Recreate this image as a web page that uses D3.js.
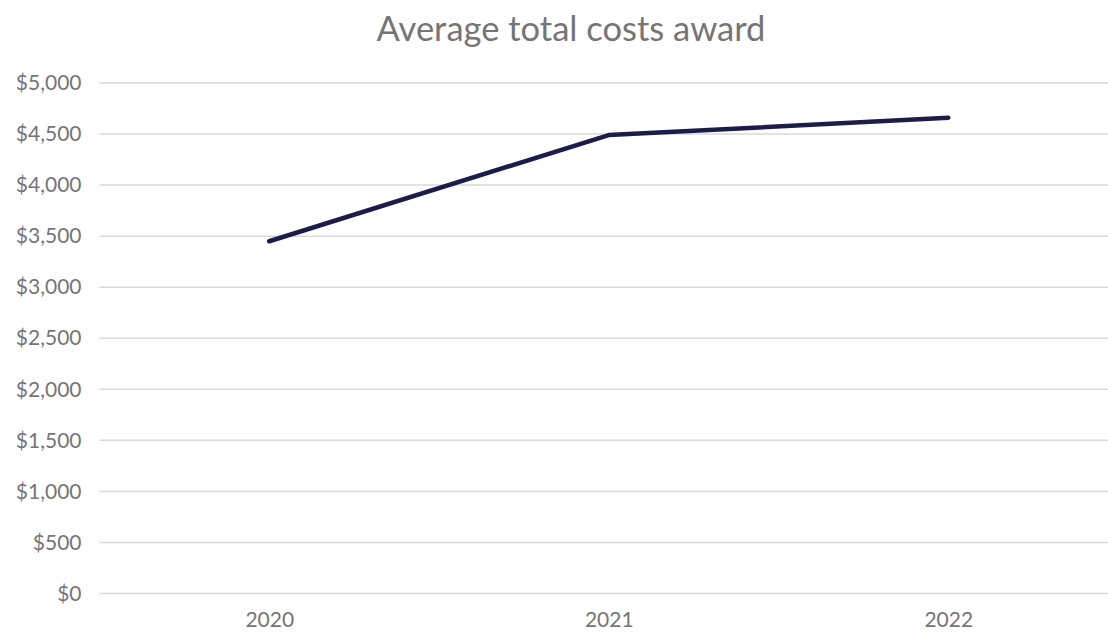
<!DOCTYPE html>
<html>
<head>
<meta charset="utf-8">
<script src="https://cdn.jsdelivr.net/npm/d3@7"></script>
<style>
  body { margin: 0; background: #fff; }
  svg text { font-family: Lato, "Open Sans", sans-serif; }
</style>
</head>
<body>
<div id="chart"></div>
<script>
var w = 1108;
var h = 635;

var years = ["2020", "2021", "2022"];
var costs = [3450, 4490, 4660];
var yTicks = [0, 500, 1000, 1500, 2000, 2500, 3000, 3500, 4000, 4500, 5000];

var margin = {top: 83, right: -10, bottom: 41.5, left: 99.5};

var svg = d3.select("#chart")
    .append("svg")
    .attr("width", w)
    .attr("height", h);

var x = d3.scalePoint()
    .domain(years)
    .range([margin.left, w - margin.right])
    .padding(0.5);

var y = d3.scaleLinear()
    .domain([0, 5000])
    .range([h - margin.bottom, margin.top]);

// title
svg.append("text")
    .attr("x", 571)
    .attr("y", 41)
    .attr("text-anchor", "middle")
    .attr("fill", "#757575")
    .style("font-size", "34.5px")
    .text("Average total costs award");

// gridlines
svg.selectAll("line.grid")
    .data(yTicks)
    .enter()
    .append("line")
    .attr("class", "grid")
    .attr("x1", margin.left)
    .attr("x2", w)
    .attr("y1", function(d) { return y(d); })
    .attr("y2", function(d) { return y(d); })
    .attr("stroke", "#d9d9d9")
    .attr("stroke-width", 1.5);

var yAxis = svg.append("g")
    .attr("transform", "translate(" + margin.left + ",0)")
    .call(d3.axisLeft(y).tickValues(yTicks).tickSize(0).tickPadding(18)
        .tickFormat(function(d) { return "$" + d3.format(",")(d); }));
yAxis.select(".domain").remove();
yAxis.selectAll("text")
    .attr("fill", "#757575")
    .style("font-size", "21px");

var xAxis = svg.append("g")
    .attr("transform", "translate(0," + (h - margin.bottom) + ")")
    .call(d3.axisBottom(x).tickSize(0).tickPadding(19));
xAxis.select(".domain").remove();
xAxis.selectAll("text")
    .attr("fill", "#757575")
    .style("font-size", "21px");

var line = d3.line()
    .x(function(d, i) { return x(years[i]); })
    .y(function(d) { return y(d); });

svg.append("path")
    .datum(costs)
    .attr("fill", "none")
    .attr("stroke", "#1c1c4c")
    .attr("stroke-width", 4.5)
    .attr("stroke-linejoin", "round")
    .attr("stroke-linecap", "round")
    .attr("d", line);
</script>
</body>
</html>
